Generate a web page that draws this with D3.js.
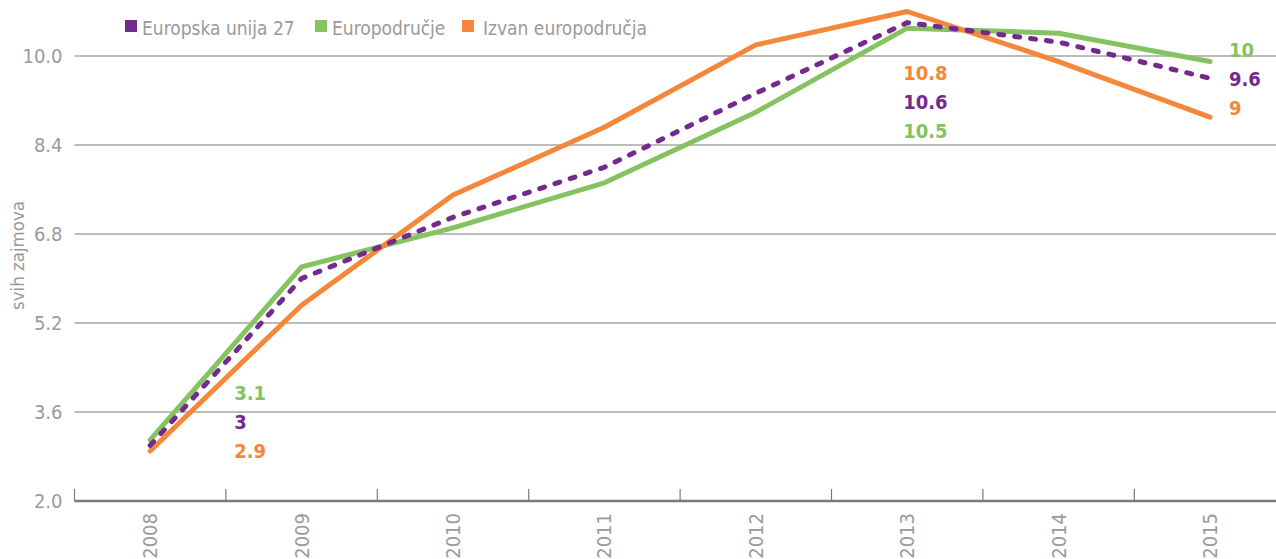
<!DOCTYPE html>
<html>
<head>
<meta charset="utf-8">
<script src="https://cdn.jsdelivr.net/npm/d3@7"></script>
<style>
  html, body { margin: 0; padding: 0; background: #fff; }
  svg { display: block; }
  text { font-family: "DejaVu Sans Condensed", "DejaVu Sans", sans-serif; }
</style>
</head>
<body>
<svg id="chart" width="1276" height="559"></svg>
<script>
// ---- data ----
const years = ["2008", "2009", "2010", "2011", "2012", "2013", "2014", "2015"];
const seriesNames = ["Europska unija 27", "Europodručje", "Izvan europodručja"];
const eu27 = [3.0, 6.0, 7.1, 8.0, 9.33, 10.6, 10.25, 9.6];
const euroArea = [3.1, 6.21, 6.91, 7.72, 8.99, 10.5, 10.41, 9.9];
const outsideEuro = [2.9, 5.52, 7.5, 8.72, 10.2, 10.8, 9.9, 8.9];
const yTicks = [2.0, 3.6, 5.2, 6.8, 8.4, 10.0];
const yTitle = "svih zajmova";
// value labels shown on the chart (as printed)
const labelYears = ["2008", "2013", "2015"];
const labels2008 = ["3.1", "3", "2.9"];     // euroArea, eu27, outsideEuro
const labels2013 = ["10.8", "10.6", "10.5"]; // outsideEuro, eu27, euroArea
const labels2015 = ["10", "9.6", "9"];      // euroArea, eu27, outsideEuro

const colors = { eu27: "#73298d", euro: "#84c35f", outside: "#f5873b" };
const gray = "#9a9a9a";

const svg = d3.select("#chart");
const left = 74.5, bandW = 151.4;
const x = d3.scaleBand().domain(years).range([left, left + bandW * years.length]);
const y = d3.scaleLinear().domain([2, 10]).range([501, 56]);
const cx = d => x(d) + x.bandwidth() / 2;

// gridlines
svg.append("g").selectAll("line").data(yTicks.filter(t => t > 2)).join("line")
  .attr("x1", left).attr("x2", 1276)
  .attr("y1", d => y(d)).attr("y2", d => y(d))
  .attr("stroke", "#a6a6a6").attr("stroke-width", 1.5);

// y axis labels
const yAxis = d3.axisLeft(y).tickValues(yTicks).tickFormat(d3.format(".1f")).tickSize(0).tickPadding(12);
const gy = svg.append("g").attr("transform", `translate(${left},0)`).call(yAxis);
gy.select(".domain").remove();
gy.selectAll("text").attr("fill", gray).style("font-size", "20px")
  .style("font-family", '"DejaVu Sans Condensed", sans-serif');

// y title
svg.append("text").attr("transform", `translate(24,310) rotate(-90)`)
  .attr("fill", gray).style("font-size", "18.5px").text(yTitle);

// x axis
svg.append("line").attr("x1", left).attr("x2", 1276).attr("y1", y(2)).attr("y2", y(2))
  .attr("stroke", "#7a7a7a").attr("stroke-width", 2.5);
const bounds = years.map(d => x(d)).concat([x(years[years.length - 1]) + x.bandwidth()]);
svg.append("g").selectAll("line").data(bounds).join("line")
  .attr("x1", d => d).attr("x2", d => d).attr("y1", y(2) - 12).attr("y2", y(2))
  .attr("stroke", "#7a7a7a").attr("stroke-width", 1.2);
const xAxis = d3.axisBottom(x).tickSize(0).tickPadding(0);
const gx = svg.append("g").attr("transform", `translate(0,${y(2)})`).call(xAxis);
gx.select(".domain").remove();
gx.selectAll("text")
  .attr("fill", gray).style("font-size", "20px")
  .attr("text-anchor", "end").attr("dy", null)
  .attr("transform", "translate(7,12) rotate(-90)");

// lines
const line = d3.line().x((d, i) => cx(years[i])).y(d => y(d));
svg.append("path").datum(euroArea).attr("d", line).attr("fill", "none")
  .attr("stroke", colors.euro).attr("stroke-width", 5).attr("stroke-linejoin", "round").attr("stroke-linecap", "round");
svg.append("path").datum(outsideEuro).attr("d", line).attr("fill", "none")
  .attr("stroke", colors.outside).attr("stroke-width", 5).attr("stroke-linejoin", "round").attr("stroke-linecap", "round");
svg.append("path").datum(eu27).attr("d", line).attr("fill", "none")
  .attr("stroke", colors.eu27).attr("stroke-width", 5).attr("stroke-dasharray", "5,11")
  .attr("stroke-linecap", "round").attr("stroke-linejoin", "round");

// value labels
function addLabels(year, dx, startY, texts, cols) {
  texts.forEach((t, i) => {
    svg.append("text").attr("x", cx(year) + dx).attr("y", startY + i * 29)
      .attr("fill", cols[i]).style("font-size", "20px").style("font-weight", "bold").text(t);
  });
}
addLabels(labelYears[0], 84, 400, labels2008, [colors.euro, colors.eu27, colors.outside]);
addLabels(labelYears[1], -4, 80, labels2013, [colors.outside, colors.eu27, colors.euro]);
addLabels(labelYears[2], 19, 57, labels2015, [colors.euro, colors.eu27, colors.outside]);

// legend
const legendX = [125, 315, 462];
const legendCols = [colors.eu27, colors.euro, colors.outside];
seriesNames.forEach((n, i) => {
  svg.append("rect").attr("x", legendX[i]).attr("y", 20).attr("width", 12).attr("height", 12).attr("fill", legendCols[i]);
  svg.append("text").attr("x", legendX[i] + (i === 2 ? 21 : 17)).attr("y", 34.5)
    .attr("fill", gray).style("font-size", "19px").text(n);
});
</script>
</body>
</html>
